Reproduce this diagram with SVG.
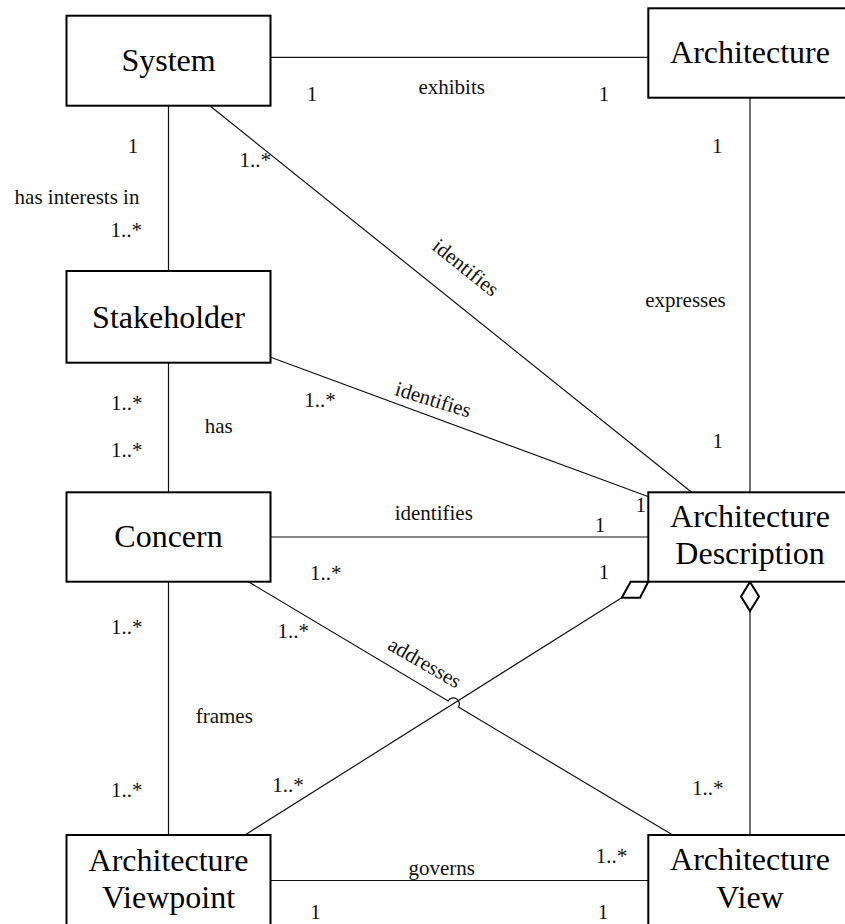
<svg xmlns="http://www.w3.org/2000/svg" width="845" height="924" viewBox="0 0 845 924">
  <style>
    .box { fill: #fff; stroke: #000; stroke-width: 2; }
    .name { font-size: 32px; fill: #000; text-anchor: middle; }
    .conn { fill: none; stroke: #111; stroke-width: 1.2; }
    .agg { fill: #fff; stroke: #000; stroke-width: 2; stroke-linejoin: miter; }
    .lbl { font-size: 21px; fill: #111; text-anchor: middle; }
  </style>
  <rect width="845" height="924" fill="#fff"/>

  <!-- associations -->
  <g id="connectors">
    <line class="conn" x1="270" y1="57.3" x2="648" y2="57.3"/>
    <line class="conn" x1="168.5" y1="106" x2="168.5" y2="271"/>
    <line class="conn" x1="168.5" y1="363" x2="168.5" y2="492"/>
    <line class="conn" x1="168.5" y1="582" x2="168.5" y2="835"/>
    <line class="conn" x1="750" y1="98" x2="750" y2="492"/>
    <line class="conn" x1="210.7" y1="106.5" x2="691.7" y2="492.3"/>
    <line class="conn" x1="270" y1="357" x2="648" y2="496.5"/>
    <line class="conn" x1="270" y1="537" x2="648" y2="537"/>
    <line class="conn" x1="270" y1="880.5" x2="648" y2="880.5"/>
    <!-- addresses, with a hop over the viewpoint line -->
    <path class="conn" d="M248.3,581.7 L448.1,700.9 A6,6 0 0 1 458.5,707.1 L672.7,835"/>
    <!-- viewpoint to description, shared aggregation -->
    <line class="conn" x1="245" y1="835" x2="621.7" y2="597.7"/>
    <polygon class="agg" points="648.3,581.7 630.7,581.7 621.7,597.7 640,597.7"/>
    <!-- view to description, aggregation -->
    <line class="conn" x1="750" y1="611" x2="750" y2="835"/>
    <polygon class="agg" points="750,582 759,596.5 750,611 741,596.5"/>
  </g>

  <g font-family="Liberation Serif, Times New Roman, serif">
    <g id="system">
      <rect class="box" x="66.5" y="15.7" width="204" height="90"/>
      <text class="name" x="168.5" y="71">System</text>
    </g>
    <g id="architecture">
      <rect class="box" x="648.3" y="8.3" width="204" height="89.4"/>
      <text class="name" x="750" y="63.3">Architecture</text>
    </g>
    <g id="stakeholder">
      <rect class="box" x="66.5" y="271" width="204" height="91.7"/>
      <text class="name" x="168.5" y="327.7">Stakeholder</text>
    </g>
    <g id="concern">
      <rect class="box" x="66.5" y="492.3" width="204" height="89.4"/>
      <text class="name" x="168.5" y="546.7">Concern</text>
    </g>
    <g id="architecture-description">
      <rect class="box" x="648.3" y="492.3" width="204" height="89.4"/>
      <text class="name" x="750" y="526.7">Architecture</text>
      <text class="name" x="750" y="564.3">Description</text>
    </g>
    <g id="architecture-viewpoint">
      <rect class="box" x="66.5" y="835" width="204" height="92"/>
      <text class="name" x="168.5" y="871">Architecture</text>
      <text class="name" x="168.5" y="908.3">Viewpoint</text>
    </g>
    <g id="architecture-view">
      <rect class="box" x="648.3" y="835" width="204" height="92"/>
      <text class="name" x="750" y="870">Architecture</text>
      <text class="name" x="750" y="908.3">View</text>
    </g>

    <!-- role names and multiplicities -->
    <g id="labels">
      <text class="lbl" x="312" y="100.7">1</text>
      <text class="lbl" x="451.7" y="94.3">exhibits</text>
      <text class="lbl" x="604" y="100.7">1</text>
      <text class="lbl" x="133" y="153">1</text>
      <text class="lbl" x="255.3" y="166.7">1..*</text>
      <text class="lbl" x="77" y="204.3">has interests in</text>
      <text class="lbl" x="126.3" y="236.7">1..*</text>
      <text class="lbl" x="717.3" y="153.3">1</text>
      <text class="lbl" x="685.5" y="306.7">expresses</text>
      <text class="lbl" x="320" y="406.7">1..*</text>
      <text class="lbl" x="126.7" y="410">1..*</text>
      <text class="lbl" x="218.8" y="433.3">has</text>
      <text class="lbl" x="126.7" y="457.3">1..*</text>
      <text class="lbl" x="717.8" y="448.3">1</text>
      <text class="lbl" x="640.7" y="511.7">1</text>
      <text class="lbl" x="433.8" y="520">identifies</text>
      <text class="lbl" x="600" y="531.7">1</text>
      <text class="lbl" x="325.8" y="580">1..*</text>
      <text class="lbl" x="604" y="579">1</text>
      <text class="lbl" x="126.7" y="634.3">1..*</text>
      <text class="lbl" x="293.3" y="638.3">1..*</text>
      <text class="lbl" x="224.3" y="723.3">frames</text>
      <text class="lbl" x="288" y="791.7">1..*</text>
      <text class="lbl" x="126.7" y="796.7">1..*</text>
      <text class="lbl" x="707.8" y="795">1..*</text>
      <text class="lbl" x="611.5" y="862.5">1..*</text>
      <text class="lbl" x="441.7" y="875">governs</text>
      <text class="lbl" x="315.5" y="919">1</text>
      <text class="lbl" x="603" y="919">1</text>
      <text class="lbl" x="461.4" y="273" transform="rotate(38.7 461.4 273)">identifies</text>
      <text class="lbl" x="431.2" y="406.2" transform="rotate(17 431.2 406.2)">identifies</text>
      <text class="lbl" x="421.3" y="668.8" transform="rotate(30 421.3 668.8)">addresses</text>
    </g>
  </g>
</svg>
